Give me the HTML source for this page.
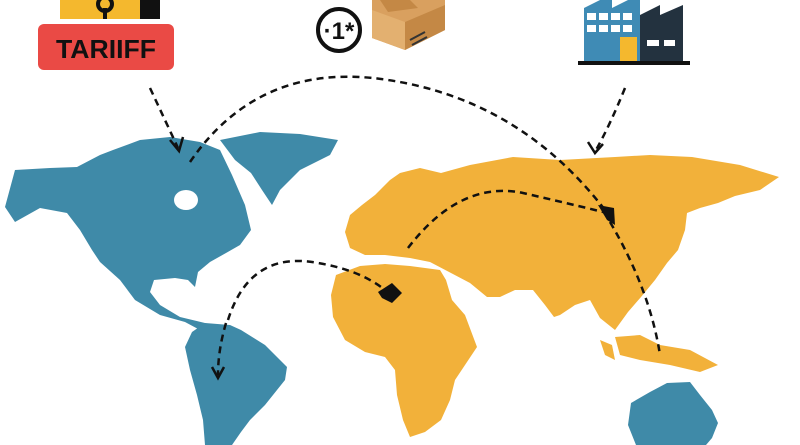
<!DOCTYPE html>
<html><head><style>
html,body{margin:0;padding:0;background:#fff;}
svg{display:block;}
</style></head><body>
<svg width="800" height="445" viewBox="0 0 800 445" xmlns="http://www.w3.org/2000/svg">
<!-- Tariff icon -->
<rect x="60" y="0" width="100" height="19" fill="#f4b82e"/>
<rect x="140" y="0" width="20" height="19" fill="#111"/>
<circle cx="105" cy="4" r="7" fill="none" stroke="#111" stroke-width="4"/>
<rect x="103" y="8" width="4" height="11" fill="#111"/>
<rect x="38" y="24" width="136" height="46" rx="6" fill="#ea4a45"/>
<text x="106" y="58" text-anchor="middle" font-family="Liberation Sans, sans-serif" font-weight="bold" font-size="26" fill="#111" textLength="100" lengthAdjust="spacingAndGlyphs">TARIIFF</text>
<!-- box icon -->
<circle cx="339" cy="30" r="21" fill="#fff" stroke="#111" stroke-width="4"/>
<text x="339" y="39" text-anchor="middle" font-family="Liberation Sans, sans-serif" font-weight="bold" font-size="24" fill="#111">·1*</text>
<polygon points="372,0 445,0 445,30 405,50 372,38" fill="#d9a05f"/>
<polygon points="405,22 445,5 445,30 405,50" fill="#c48845"/>
<polygon points="372,10 405,22 405,50 372,38" fill="#e3b070"/>
<polygon points="380,0 410,0 418,8 388,12" fill="#c48845"/>
<line x1="410" y1="40" x2="425" y2="32" stroke="#333" stroke-width="2"/>
<line x1="412" y1="45" x2="427" y2="37" stroke="#333" stroke-width="2"/>
<!-- factory -->
<polygon points="584,8 600,0 612,0 612,8 628,0 640,0 640,62 584,62" fill="#3f8bb5"/>
<polygon points="640,15 660,5 660,15 683,5 683,62 640,62" fill="#23323f"/>
<g fill="#fff">
<rect x="587" y="13" width="9" height="7"/><rect x="599" y="13" width="9" height="7"/><rect x="611" y="13" width="9" height="7"/><rect x="623" y="13" width="9" height="7"/>
<rect x="587" y="25" width="9" height="7"/><rect x="599" y="25" width="9" height="7"/><rect x="611" y="25" width="9" height="7"/><rect x="623" y="25" width="9" height="7"/>
<rect x="647" y="40" width="12" height="6"/><rect x="664" y="40" width="11" height="6"/>
</g>
<rect x="620" y="37" width="17" height="25" fill="#f4b82e"/>
<rect x="578" y="61" width="112" height="4" fill="#111"/>
<!-- Map blue -->
<g fill="#3f8aa8">
<path d="M5,207 L15,170 L50,168 L77,167 L100,155 L113,150 L140,140 L170,137 L200,142 L220,150 L232,175 L245,205 L251,230 L240,245 L226,253 L210,262 L198,272 L195,287 L188,280 L175,278 L154,280 L150,292 L160,305 L180,317 L205,323 L215,326 L200,330 L185,322 L160,315 L135,300 L120,280 L100,262 L92,250 L80,230 L67,213 L40,208 L15,222 Z"/>
<path d="M220,140 L260,132 L300,134 L338,140 L330,155 L300,170 L280,190 L272,205 L262,190 L251,173 L235,160 Z"/>
<path d="M205,323 L230,325 L241,330 L265,345 L287,367 L285,380 L277,390 L265,405 L250,420 L241,432 L232,445 L205,445 L203,420 L197,395 L190,370 L185,347 L192,332 Z"/>
<path d="M631,403 L650,392 L667,383 L690,382 L700,395 L712,410 L718,423 L712,438 L706,445 L636,445 L628,425 Z"/>
</g>
<ellipse cx="186" cy="200" rx="12" ry="10" fill="#fff"/>
<!-- Map yellow -->
<g fill="#f2b13a">
<path d="M350,215 L362,205 L375,195 L390,180 L400,173 L420,168 L441,173 L470,165 L513,157 L560,160 L615,157 L650,155 L692,157 L740,165 L779,177 L760,190 L735,196 L718,203 L700,208 L687,213 L685,230 L678,250 L667,263 L655,280 L641,297 L628,312 L615,330 L600,318 L590,300 L575,305 L560,315 L554,317 L545,305 L533,290 L515,290 L500,297 L487,297 L470,283 L451,273 L430,262 L410,258 L385,255 L365,255 L350,248 L345,232 Z"/>
<path d="M336,275 L360,266 L385,264 L410,266 L440,270 L446,280 L452,300 L465,315 L477,347 L465,365 L455,380 L450,400 L441,420 L425,432 L410,437 L403,420 L397,395 L395,370 L385,357 L365,352 L345,340 L333,317 L331,295 Z"/>
<path d="M615,337 L640,335 L660,345 L690,350 L718,365 L700,372 L670,365 L640,360 L620,355 Z"/>
<path d="M600,340 L612,345 L615,360 L605,355 Z"/>
</g>
<!-- connectors -->
<g fill="none" stroke="#111" stroke-width="2.5" stroke-dasharray="7,5">
<path d="M150,88 Q165,120 178,148"/>
<path d="M190,162 Q260,60 388,80 Q520,100 605,210"/>
<path d="M625,88 Q610,125 596,150"/>
<path d="M408,248 Q460,180 523,193 Q575,205 603,212"/>
<path d="M610,222 Q650,290 660,355"/>
<path d="M228,320 Q250,250 318,263 Q360,270 385,290"/>
<path d="M226,323 Q218,350 218,375"/>
</g>
<g fill="none" stroke="#111" stroke-width="2.5">
<path d="M170,140 L179,151 L183,137"/>
<path d="M588,142 L595,153 L603,144"/>
<path d="M212,367 L218,378 L224,367"/>
</g>
<polygon points="598,205 614,208 615,225 607,220" fill="#111"/>
<polygon points="378,292 392,283 402,293 392,303 382,298" fill="#111"/>
</svg>
</body></html>
